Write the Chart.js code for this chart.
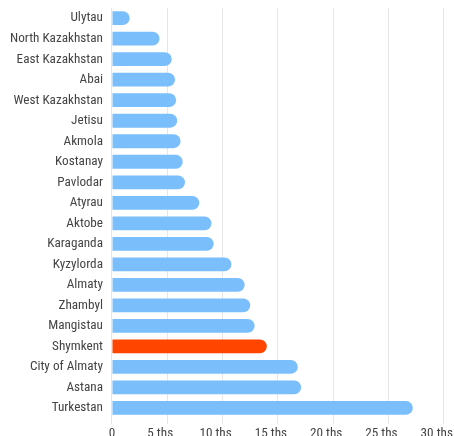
<!DOCTYPE html>
<html>
<head>
<meta charset="utf-8">
<script src="https://cdn.jsdelivr.net/npm/chart.js@4"></script>
<style>
  html, body { margin: 0; padding: 0; background: #fff; overflow: hidden; }
  #wrap { position: relative; width: 469px; height: 453px; margin-top: -9px; }
</style>
</head>
<body>
<div id="wrap"><canvas id="myChart"></canvas></div>
<script>
// regions, top to bottom
var regions = ['Ulytau', 'North Kazakhstan', 'East Kazakhstan', 'Abai', 'West Kazakhstan', 'Jetisu',
    'Akmola', 'Kostanay', 'Pavlodar', 'Atyrau', 'Aktobe', 'Karaganda', 'Kyzylorda', 'Almaty',
    'Zhambyl', 'Mangistau', 'Shymkent', 'City of Almaty', 'Astana', 'Turkestan'];
// values in thousands
var values = [1.6, 4.3, 5.4, 5.7, 5.8, 5.9, 6.2, 6.4, 6.6, 7.9, 9.0, 9.2, 10.8, 12.0,
    12.5, 12.9, 14.0, 16.8, 17.1, 27.2];
var highlight = 'Shymkent';
var xTicks = [0, 5, 10, 15, 20, 25, 30];

var fam = "'Roboto Condensed', Roboto, sans-serif";

var colors = regions.map(function (r) {
    return r === highlight ? 'rgb(255,69,0)' : 'rgb(122,190,252)';
});

const ctx = document.getElementById('myChart');
const myChart = new Chart(ctx, {
    type: 'bar',
    data: {
        labels: regions,
        datasets: [{
            data: values,
            backgroundColor: colors,
            borderRadius: 20,
            borderSkipped: 'start',
            barPercentage: 0.82,
            categoryPercentage: 0.82
        }]
    },
    options: {
        indexAxis: 'y',
        responsive: true,
        maintainAspectRatio: false,
        animation: false,
        layout: {
            autoPadding: false,
            padding: { left: 1, right: 0, top: 0, bottom: 0 }
        },
        plugins: {
            legend: { display: false },
            tooltip: { enabled: false }
        },
        scales: {
            x: {
                min: 0,
                max: 30,
                afterBuildTicks: function (axis) {
                    axis.ticks = xTicks.map(function (v) { return { value: v }; });
                },
                grid: { color: '#e6e6e6', drawTicks: true, tickLength: 6 },
                border: { display: false },
                ticks: {
                    color: '#444',
                    font: { family: fam, size: 13.2 },
                    padding: 2,
                    maxRotation: 0,
                    callback: function (v) { return v === 0 ? '0' : v + ' ths\u2003\u2009'; }
                }
            },
            y: {
                grid: { display: false, drawTicks: false },
                border: { display: false },
                ticks: {
                    color: '#444',
                    font: { family: fam, size: 13.2 },
                    padding: 9
                }
            }
        }
    }
});
</script>
</body>
</html>
